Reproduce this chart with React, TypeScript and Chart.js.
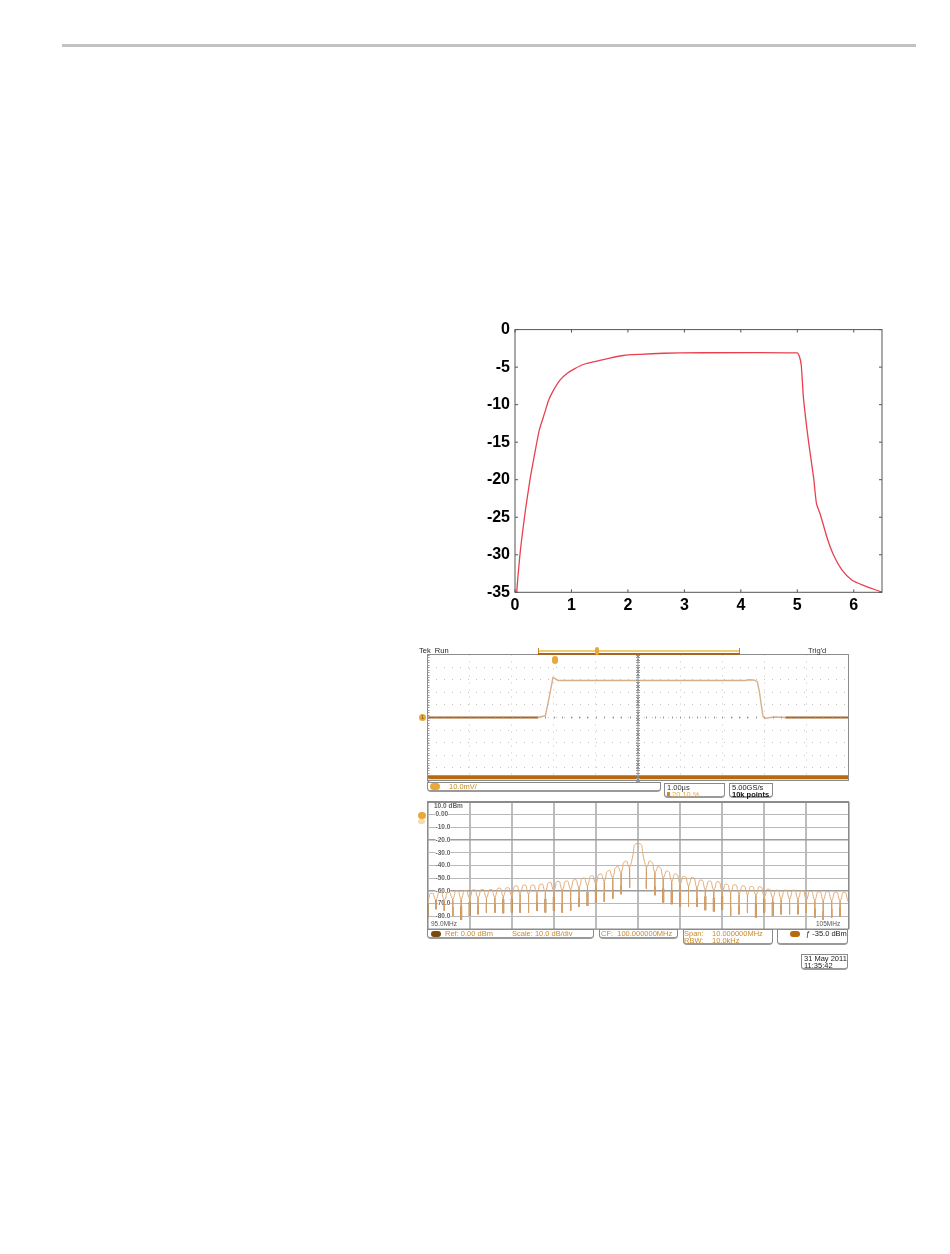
import React, { useEffect, useRef } from "react";
import { Chart, registerables } from "chart.js";

Chart.register(...registerables);

// ---- Top chart: response curve ----
const responseX = [0.03, 0.05, 0.1, 0.18, 0.27, 0.355, 0.43, 0.53, 0.59, 0.68, 0.8, 0.92, 1.06, 1.21, 1.45, 1.68, 1.92, 2.22, 2.63, 2.93, 5.0, 5.04, 5.07, 5.11, 5.2, 5.29, 5.34, 5.41, 5.53, 5.64, 5.79, 5.97, 6.18, 6.47, 6.5];
const responseY = [-35, -33.1, -29.1, -24.3, -19.8, -16.3, -13.4, -11, -9.5, -8.1, -6.7, -5.85, -5.2, -4.65, -4.2, -3.8, -3.45, -3.3, -3.15, -3.1, -3.1, -3.65, -4.75, -9.2, -15, -19.8, -23.2, -24.7, -27.8, -30, -32, -33.4, -34.1, -34.9, -35];

// ---- Time-domain trace (µs, mV) ----
const pulseT = [2.63, 2.72, 2.8, 2.89, 2.98, 3.03, 3.1, 7.55, 7.62, 7.74, 7.83, 7.88, 7.93, 7.97, 8.02, 8.14, 8.26, 8.5];
const pulseV = [0, 0.8, 1.5, 15.9, 31.7, 30.9, 29.4, 29.4, 30, 29.8, 28.6, 21.4, 9.5, 0.8, -0.8, 0, 0.4, 0];
const baseLeftT = [0, 2.63];
const baseLeftV = [0, 0];
const baseRightT = [8.5, 10];
const baseRightV = [0, 0];
const overflowT = [0, 10];
const overflowV = [-47.5, -47.5];
const centerLineT = [5, 5];
const centerLineV = [-50, 50];

// ---- Spectrum (MHz, dBm) ----
const nullFreq = [95.0, 95.2, 95.4, 95.6, 95.8, 96.0, 96.2, 96.4, 96.6, 96.8, 97.0, 97.2, 97.4, 97.6, 97.8, 98.0, 98.2, 98.4, 98.6, 98.8, 99.0, 99.2, 99.4, 99.6, 99.8, 100.2, 100.4, 100.6, 100.8, 101.0, 101.2, 101.4, 101.6, 101.8, 102.0, 102.2, 102.4, 102.6, 102.8, 103.0, 103.2, 103.4, 103.6, 103.8, 104.0, 104.2, 104.4, 104.6, 104.8, 105.0];
const nullDb = [-81, -74.4, -75.8, -79.7, -82.9, -79.7, -78.4, -77.1, -77.1, -77.6, -77.1, -77.1, -77.1, -75.8, -77.1, -75.8, -77.1, -75.8, -72.6, -71.8, -69.2, -68.6, -66, -62.6, -57.3, -58.1, -63.4, -69.2, -70.5, -72.3, -72.6, -72.6, -75.2, -76.3, -75, -79.7, -78.4, -77.1, -81, -77.1, -79.7, -78.4, -78.4, -78.4, -77.1, -81, -82.9, -81, -80.2, -74.4];
const joinDb = [-68, -68, -68, -67, -67, -66.5, -66, -66, -65.5, -65, -64.5, -63, -63, -62.5, -61.5, -60.5, -60, -59, -58, -56.5, -55, -53, -50, -46, -42, -42, -46, -50, -53, -55, -56.5, -58, -59.5, -60, -60.5, -62, -63, -63.5, -64, -65, -66, -67, -67, -67, -67.5, -68, -68, -68, -68.5, -69];
const peakFreq = [95.1, 95.3, 95.5, 95.7, 95.9, 96.1, 96.3, 96.5, 96.7, 96.9, 97.1, 97.3, 97.5, 97.7, 97.9, 98.1, 98.3, 98.5, 98.7, 98.9, 99.1, 99.3, 99.5, 99.7, 100.0, 100.3, 100.5, 100.7, 100.9, 101.1, 101.3, 101.5, 101.7, 101.9, 102.1, 102.3, 102.5, 102.7, 102.9, 103.1, 103.3, 103.5, 103.7, 103.9, 104.1, 104.3, 104.5, 104.7, 104.9];
const peakDb = [-61.8, -60.7, -61.3, -59.9, -59.7, -59.1, -58.9, -58.9, -57.8, -57.5, -56, -55.4, -55.4, -54.7, -53.3, -52.5, -52.3, -51.2, -49.9, -48.1, -46.7, -44.1, -41, -36.7, -22.7, -36.7, -41, -44.4, -46.7, -48.6, -49.4, -51.5, -52.3, -52.8, -54.7, -55.2, -56, -56.5, -56.8, -58.6, -59.4, -59.4, -59.4, -59.9, -60.4, -60.7, -60.7, -61, -61.3];
const heavyNullFreq = [95.0, 95.8, 96.0, 96.8, 97.0, 97.8, 98.0, 98.8, 99.0, 100.6, 100.8, 101.0, 101.6, 101.8, 102.0, 102.8, 103.0, 103.2];
const spectrumTickLabels = ["0.00", "-10.0", "-20.0", "-30.0", "-40.0", "-50.0", "-60.0", "-70.0", "-80.0"];

const pts = (xs: number[], ys: number[]) => xs.map((x, i) => ({ x, y: ys[i] }));

// Arches: each lobe rises from the join with its neighbour to its peak.
function archSeries() {
  const out: { x: number; y: number }[] = [];
  nullFreq.forEach((f, i) => {
    out.push({ x: f, y: joinDb[i] }, { x: f, y: joinDb[i] });
    if (i < peakFreq.length) out.push({ x: peakFreq[i], y: peakDb[i] });
  });
  return out;
}

// Stems: the vertical drop from each join down to the null.
function stemSeries() {
  const out: { x: number; y: number }[] = [];
  nullFreq.forEach((f, i) => {
    out.push({ x: f, y: joinDb[i] }, { x: f, y: nullDb[i] }, { x: f, y: NaN });
  });
  return out;
}

function spikes(heavy: boolean) {
  const out: { x: number; y: number }[] = [];
  nullFreq.forEach((f, i) => {
    if (heavyNullFreq.includes(f) !== heavy) return;
    out.push({ x: f, y: nullDb[i] + (heavy ? 11 : 7) }, { x: f, y: nullDb[i] }, { x: f, y: NaN });
  });
  return out;
}

const framePlugin = (color: string, width: number, insideTicks: boolean) => ({
  id: "frame",
  afterDraw(chart: any) {
    const { ctx, chartArea: a, scales } = chart;
    ctx.save();
    ctx.strokeStyle = color;
    ctx.lineWidth = width;
    ctx.strokeRect(a.left, a.top, a.right - a.left, a.bottom - a.top);
    if (insideTicks) {
      scales.x.ticks.forEach((t: any) => {
        const p = scales.x.getPixelForValue(t.value);
        ctx.beginPath();
        ctx.moveTo(p, a.top);
        ctx.lineTo(p, a.top + 3);
        ctx.moveTo(p, a.bottom);
        ctx.lineTo(p, a.bottom - 3);
        ctx.stroke();
      });
      scales.y.ticks.forEach((t: any) => {
        const p = scales.y.getPixelForValue(t.value);
        ctx.beginPath();
        ctx.moveTo(a.left, p);
        ctx.lineTo(a.left + 3, p);
        ctx.moveTo(a.right, p);
        ctx.lineTo(a.right - 3, p);
        ctx.stroke();
      });
    }
    ctx.restore();
  },
});

const scopeTicksPlugin = {
  id: "scopeTicks",
  afterDraw(chart: any) {
    const { ctx, chartArea: a, scales } = chart;
    ctx.save();
    ctx.strokeStyle = "#9a9a9a";
    ctx.lineWidth = 1;
    for (let v = 0; v <= 10.001; v += 0.2) {
      const p = Math.round(scales.x.getPixelForValue(v)) + 0.5;
      ctx.beginPath();
      ctx.moveTo(p, scales.y.getPixelForValue(0) - 1);
      ctx.lineTo(p, scales.y.getPixelForValue(0) + 1);
      ctx.stroke();
    }
    for (let v = -50; v <= 50; v += 2) {
      const p = Math.round(scales.y.getPixelForValue(v)) + 0.5;
      ctx.beginPath();
      ctx.moveTo(a.left, p);
      ctx.lineTo(a.left + 2, p);
      ctx.moveTo(scales.x.getPixelForValue(5) - 2, p);
      ctx.lineTo(scales.x.getPixelForValue(5) + 2, p);
      ctx.stroke();
    }
    ctx.restore();
  },
};

const base = {
  animation: false,
  responsive: false,
  maintainAspectRatio: false,
  plugins: { legend: { display: false }, tooltip: { enabled: false }, title: { display: false } },
  elements: { point: { radius: 0 } },
};

function useChart(make: (c: HTMLCanvasElement) => Chart) {
  const ref = useRef<HTMLCanvasElement>(null);
  useEffect(() => {
    const chart = make(ref.current as HTMLCanvasElement);
    return () => chart.destroy();
  }, []);
  return ref;
}

const canvasAt = (left: number, top: number, blur = 0): React.CSSProperties => ({ position: "absolute", left, top, display: "block", filter: blur ? `blur(${blur}px)` : undefined });

const Txt = ({ x, y, c = "#c98a2c", s = 7.5, w = 400, t }: { x: number; y: number; c?: string; s?: number; w?: number; t: string }) => (
  <div style={{ position: "absolute", left: x, top: y, color: c, fontSize: s, fontWeight: w, lineHeight: 1, whiteSpace: "pre", fontFamily: "'Liberation Sans', Arial, sans-serif" }}>{t}</div>
);

const Box = ({ x, y, w, h }: { x: number; y: number; w: number; h: number }) => (
  <div style={{ position: "absolute", left: x, top: y, width: w, height: h, boxSizing: "border-box", border: "1px solid #8a8a8a", borderRightWidth: 1, borderBottom: "2px solid #9a9a9a", borderRadius: "0 0 4px 4px" }} />
);

const Pill = ({ x, y, w, h, c = "#b8690f" }: { x: number; y: number; w: number; h: number; c?: string }) => (
  <div style={{ position: "absolute", left: x, top: y, width: w, height: h, background: c, borderRadius: h / 2 }} />
);

export default function App() {
  const topRef = useChart((c) =>
    new Chart(c, {
      type: "line",
      data: { datasets: [{ data: pts(responseX, responseY), borderColor: "#e8404f", borderWidth: 1.3, tension: 0.2 }] },
      plugins: [framePlugin("#555555", 1, true)],
      options: {
        ...base,
        layout: { padding: { top: 14.5, right: 18, left: 0, bottom: 0 } },
        scales: {
          x: {
            type: "linear", min: 0, max: 6.5,
            afterBuildTicks: (s: any) => { s.ticks = [0, 1, 2, 3, 4, 5, 6].map((value) => ({ value })); },
            afterFit: (s: any) => { s.height = 27.7; },
            grid: { display: false, drawTicks: false },
            border: { display: false },
            ticks: { color: "#000", padding: 4, maxRotation: 0, font: { family: "'Liberation Sans'", size: 16, weight: "bold" } },
          },
          y: {
            min: -35, max: 0,
            afterFit: (s: any) => { s.width = 55; },
            grid: { display: false, drawTicks: false },
            border: { display: false },
            ticks: { stepSize: 5, color: "#000", padding: 5, font: { family: "'Liberation Sans'", size: 16, weight: "bold" } },
          },
        },
      },
    } as any)
  );

  const scopeRef = useChart((c) =>
    new Chart(c, {
      type: "line",
      data: {
        datasets: [
          { data: pts(centerLineT, centerLineV), borderColor: "#8a8a8a", borderWidth: 2, borderDash: [2, 1] },
          { data: pts(overflowT, overflowV), borderColor: "#b8690f", borderWidth: 4 },
          { data: pts(baseLeftT, baseLeftV), borderColor: "#a9651f", borderWidth: 2 },
          { data: pts(baseRightT, baseRightV), borderColor: "#a9651f", borderWidth: 2 },
          { data: pts(pulseT, pulseV), borderColor: "#d8b08a", borderWidth: 1.4 },
        ],
      },
      plugins: [scopeTicksPlugin, framePlugin("#8c8c8c", 1, false)],
      options: {
        ...base,
        layout: { padding: { left: 7.5, right: 6.5, top: 6.5, bottom: 7.5 } },
        scales: {
          x: {
            type: "linear", min: 0, max: 10,
            ticks: { display: false, stepSize: 1 },
            border: { display: false, dash: [1, 6] },
            grid: { color: "#c4c4c4", drawTicks: false },
          },
          y: {
            min: -50, max: 50,
            ticks: { display: false, stepSize: 10 },
            border: { display: false, dash: [1, 7] },
            grid: { color: "#c4c4c4", drawTicks: false },
          },
        },
      },
    } as any)
  );

  const specRef = useChart((c) =>
    new Chart(c, {
      type: "line",
      data: {
        datasets: [
          { data: stemSeries(), borderColor: "#d6a06a", borderWidth: 1, spanGaps: false },
          { data: spikes(false), borderColor: "#bd7c38", borderWidth: 1, spanGaps: false },
          { data: spikes(true), borderColor: "#b06c24", borderWidth: 2, spanGaps: false },
          { data: archSeries(), borderColor: "#e0ab76", borderWidth: 1, tension: 0.8 },
        ],
      },
      plugins: [framePlugin("#8c8c8c", 1, false)],
      options: {
        ...base,
        layout: { padding: { left: 7.5, right: 6.5, top: 6, bottom: 7 } },
        scales: {
          x: {
            type: "linear", min: 95, max: 105,
            ticks: { display: false, stepSize: 1 },
            border: { display: false },
            grid: { color: "#bdbdbd", lineWidth: 2, drawTicks: false },
          },
          y: {
            min: -90, max: 10,
            afterFit: (s: any) => { s.width = 0; s.paddingTop = 0; s.paddingBottom = 0; s.paddingLeft = 0; s.paddingRight = 0; },
            border: { display: false },
            grid: {
              drawTicks: false,
              color: (ctx: any) => (ctx.tick && (ctx.tick.value === -20 || ctx.tick.value === -60) ? "#9c9c9c" : "#b8b8b8"),
              lineWidth: (ctx: any) => (ctx.tick && (ctx.tick.value === -20 || ctx.tick.value === -60) ? 1.6 : 1),
            },
            ticks: {
              stepSize: 10,
              mirror: true,
              padding: 8,
              color: "#666",
              showLabelBackdrop: true,
              backdropColor: "#fff",
              backdropPadding: 0,
              font: { family: "'Liberation Sans'", size: 6.5, weight: "bold" },
              callback: (v: number) => {
                const i = Math.round(-v / 10);
                return i >= 0 && i < spectrumTickLabels.length ? spectrumTickLabels[i] : "";
              },
            },
          },
        },
      },
    } as any)
  );

  return (
    <div style={{ position: "absolute", left: 0, top: 0, width: 950, height: 1254, background: "#fff", overflow: "hidden" }}>
      <div style={{ position: "absolute", left: 62, top: 44, width: 854, height: 3, background: "#c2c2c2" }} />

      <canvas ref={topRef} width={440} height={305} style={canvasAt(460, 315)} />
      <canvas ref={scopeRef} width={435} height={140} style={canvasAt(420, 648, 0.3)} />
      <canvas ref={specRef} width={435} height={140} style={canvasAt(420, 796, 0.3)} />
      <div style={{ position: "absolute", left: 427, top: 801, width: 422, height: 2, background: "#8c8c8c" }} />

      {/* scope header */}
      <Txt x={419} y={647} c="#222" s={7.5} t="Tek  Run" />
      <Txt x={808} y={647} c="#333" s={7.5} t="Trig'd" />
      <div style={{ position: "absolute", left: 538, top: 650, width: 202, height: 2, background: "#f0cd70" }} />
      <div style={{ position: "absolute", left: 538, top: 653, width: 202, height: 2, background: "#a9651f" }} />
      <div style={{ position: "absolute", left: 538, top: 648, width: 1, height: 5, background: "#c98a2c" }} />
      <div style={{ position: "absolute", left: 739, top: 648, width: 1, height: 5, background: "#c98a2c" }} />
      <Pill x={595} y={647} w={4} h={8} c="#e8a93a" />
      <Pill x={552} y={656} w={6} h={8} c="#e8a93a" />
      <Pill x={419} y={714} w={7} h={7} c="#e8a93a" />
      <Txt x={421} y={715} c="#7a4a10" s={5.5} t="1" />

      {/* scope status */}
      <Box x={427} y={782} w={234} h={10} />
      <Pill x={430} y={783} w={10} h={7} c="#e8a93a" />
      <Txt x={449} y={783} t="10.0mV/" />
      <Box x={664} y={783} w={61} h={15} />
      <Txt x={667} y={784} c="#333" t="1.00µs" />
      <div style={{ position: "absolute", left: 667, top: 792, width: 3, height: 4, background: "#d08a20" }} />
      <Txt x={672} y={791} c="#e0a850" t="20.10 %" />
      <Box x={729} y={783} w={44} h={15} />
      <Txt x={732} y={784} c="#222" t="5.00GS/s" />
      <Txt x={732} y={791} c="#111" w={700} t="10k points" />

      {/* spectrum labels */}
      <Txt x={434} y={803} c="#666" s={6.5} w={700} t="10.0 dBm" />
      <Pill x={418} y={812} w={8} h={7} c="#e8a93a" />
      <Pill x={418} y={819} w={7} h={5} c="#f5dca8" />
      <Txt x={431} y={921} c="#555" s={6.5} t="95.0MHz" />
      <Txt x={816} y={921} c="#555" s={6.5} t="105MHz" />

      {/* spectrum status */}
      <Box x={427} y={929} w={167} h={10} />
      <Pill x={431} y={931} w={10} h={6} c="#7a4a10" />
      <Txt x={445} y={930} t="Ref: 0.00 dBm" />
      <Txt x={512} y={930} t="Scale: 10.0 dB/div" />
      <Box x={599} y={929} w={79} h={10} />
      <Txt x={601} y={930} t="CF:  100.000000MHz" />
      <Box x={683} y={929} w={90} h={16} />
      <Txt x={684} y={930} t="Span:" />
      <Txt x={712} y={930} t="10.000000MHz" />
      <Txt x={684} y={937} t="RBW:" />
      <Txt x={712} y={937} t="10.0kHz" />
      <Box x={777} y={929} w={71} h={16} />
      <Pill x={790} y={931} w={10} h={6} c="#b8690f" />
      <Txt x={806} y={930} c="#222" s={7.5} t="ƒ -35.0 dBm" />

      <Box x={801} y={954} w={47} h={16} />
      <Txt x={804} y={955} c="#222" t="31 May 2011" />
      <Txt x={804} y={962} c="#222" t="11:35:42" />
    </div>
  );
}
